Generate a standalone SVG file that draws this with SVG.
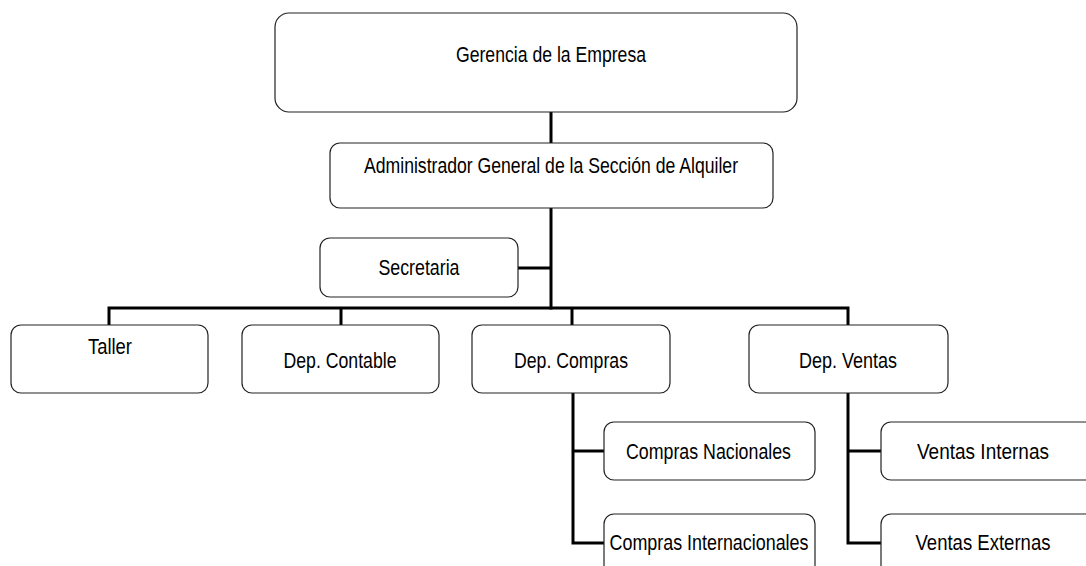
<svg xmlns="http://www.w3.org/2000/svg" width="1086" height="566" viewBox="0 0 1086 566">
<style>
.box{fill:#fff;stroke:#222;stroke-width:1.2}
.lbl{font-family:"Liberation Sans",Arial,sans-serif;font-size:22.5px;fill:#000;text-anchor:middle}
.con{fill:none;stroke:#000;stroke-width:3;stroke-linejoin:miter;stroke-linecap:butt}
</style>
<rect width="1086" height="566" fill="#fff"/>
<g id="connectors">
<path class="con" d="M551,112V143"/>
<path class="con" d="M551,208V309.5"/>
<path class="con" d="M518,268H551"/>
<path class="con" d="M109,325V308H848V325"/>
<path class="con" d="M341,308V325"/>
<path class="con" d="M572,308V325"/>
<path class="con" d="M573,393V543H604"/>
<path class="con" d="M573,451H604"/>
<path class="con" d="M848,393V543H881"/>
<path class="con" d="M848,451H881"/>
</g>
<g id="gerencia">
<rect class="box" x="275" y="13" width="522" height="99" rx="14"/>
<text class="lbl" x="551" y="62" textLength="190" lengthAdjust="spacingAndGlyphs">Gerencia de la Empresa</text>
</g>
<g id="administrador">
<rect class="box" x="330" y="143" width="443" height="65" rx="10"/>
<text class="lbl" x="551" y="173" textLength="374" lengthAdjust="spacingAndGlyphs">Administrador General de la Sección de Alquiler</text>
</g>
<g id="secretaria">
<rect class="box" x="320" y="238" width="198" height="59" rx="10"/>
<text class="lbl" x="419" y="275" textLength="81" lengthAdjust="spacingAndGlyphs">Secretaria</text>
</g>
<g id="taller">
<rect class="box" x="11" y="325" width="197" height="68" rx="10"/>
<text class="lbl" x="110" y="354" textLength="44" lengthAdjust="spacingAndGlyphs">Taller</text>
</g>
<g id="contable">
<rect class="box" x="242" y="325" width="197" height="68" rx="10"/>
<text class="lbl" x="340" y="368" textLength="113" lengthAdjust="spacingAndGlyphs">Dep. Contable</text>
</g>
<g id="compras">
<rect class="box" x="472" y="325" width="198" height="68" rx="10"/>
<text class="lbl" x="571" y="368" textLength="114" lengthAdjust="spacingAndGlyphs">Dep. Compras</text>
</g>
<g id="ventas">
<rect class="box" x="749" y="325" width="199" height="68" rx="10"/>
<text class="lbl" x="848" y="368" textLength="98" lengthAdjust="spacingAndGlyphs">Dep. Ventas</text>
</g>
<g id="compras-nacionales">
<rect class="box" x="604" y="422" width="211" height="58" rx="10"/>
<text class="lbl" x="708.5" y="459" textLength="165" lengthAdjust="spacingAndGlyphs">Compras Nacionales</text>
</g>
<g id="compras-internacionales">
<rect class="box" x="604" y="514" width="211" height="70" rx="10"/>
<text class="lbl" x="709" y="550" textLength="199" lengthAdjust="spacingAndGlyphs">Compras Internacionales</text>
</g>
<g id="ventas-internas">
<rect class="box" x="881" y="422" width="230" height="58" rx="10"/>
<text class="lbl" x="983" y="459" textLength="132" lengthAdjust="spacingAndGlyphs">Ventas Internas</text>
</g>
<g id="ventas-externas">
<rect class="box" x="881" y="514" width="230" height="70" rx="10"/>
<text class="lbl" x="983" y="550" textLength="135" lengthAdjust="spacingAndGlyphs">Ventas Externas</text>
</g>
</svg>
